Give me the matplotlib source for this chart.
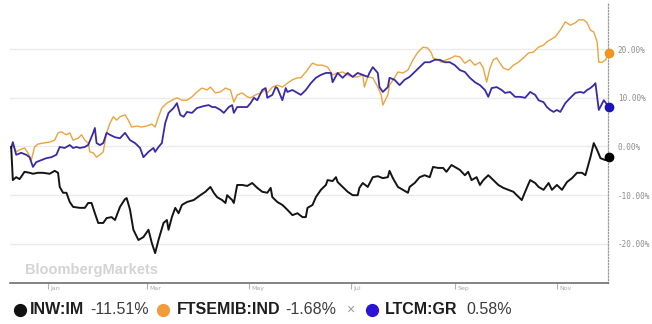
import matplotlib
matplotlib.use('Agg')
import matplotlib.pyplot as plt

# días desde el 1 de enero y variación en %
inw_days = [-22, -21, -19, -17, -14, -11, -9, -6, -3, 1, 4, 6, 7, 9, 11, 13, 15, 19, 22, 24,
            26, 28, 30, 33, 35, 38, 40, 43, 46, 47, 49, 51, 54, 57, 60, 62, 64, 66, 69, 71,
            72, 74, 76, 78, 80, 83, 87, 91, 94, 97, 99, 101, 104, 106, 107, 110, 111, 113, 116, 119,
            122, 125, 128, 131, 133, 134, 137, 140, 143, 146, 149, 152, 154, 155, 158, 160, 163, 166, 167, 170,
            172, 173, 176, 179, 182, 185, 186, 188, 191, 194, 197, 200, 203, 204, 206, 209, 212, 215, 216, 219,
            222, 225, 228, 230, 233, 236, 238, 241, 243, 246, 249, 251, 253, 256, 258, 260, 263, 266, 269, 272,
            275, 278, 280, 283, 285, 288, 291, 293, 296, 299, 301, 304, 307, 310, 313, 316, 319, 321, 324, 326,
            328, 330, 333, 335]
inw_vals = [-0.1, -6.9, -6.3, -6.7, -5.2, -5.4, -5.6, -5.4, -5.4, -5.6, -5.0, -5.4, -8.3, -9.5, -9.5, -11.4, -12.4, -12.6, -12.6, -11.6,
            -11.6, -13.7, -15.7, -15.7, -14.7, -14.5, -15.1, -12.4, -10.8, -10.6, -13.0, -17.1, -19.2, -18.6, -17.1, -19.8, -21.9, -19.2, -15.7, -15.1,
            -17.1, -14.5, -12.6, -13.7, -12.0, -11.4, -11.0, -10.0, -9.3, -8.3, -9.5, -10.4, -11.0, -11.6, -10.0, -11.0, -11.6, -7.9, -7.9, -8.1,
            -7.5, -8.5, -9.3, -9.5, -8.5, -10.4, -11.4, -12.0, -13.0, -14.1, -13.7, -14.5, -14.5, -12.6, -12.0, -10.4, -8.9, -7.9, -6.9, -7.1,
            -6.3, -7.3, -8.3, -9.3, -10.0, -10.0, -8.5, -7.5, -8.3, -6.3, -6.1, -6.5, -6.3, -5.0, -6.5, -8.3, -8.9, -9.5, -8.3, -7.5,
            -6.3, -5.9, -6.3, -4.2, -4.4, -4.4, -5.2, -3.8, -4.2, -4.8, -5.9, -5.2, -6.9, -6.3, -7.9, -6.9, -5.9, -6.9, -7.9, -8.5,
            -8.9, -9.3, -10.0, -11.0, -9.3, -6.9, -7.5, -8.3, -8.9, -7.5, -8.9, -7.9, -8.9, -7.3, -6.5, -5.4, -5.4, -5.9, -2.2, 0.7,
            -0.7, -2.4, -2.8, -2.2]

ftse_days = [-22, -21, -19, -17, -14, -12, -10, -8, -6, -3, 1, 4, 6, 8, 11, 13, 15, 18, 20, 22,
             24, 25, 27, 29, 31, 33, 35, 37, 39, 41, 43, 46, 48, 50, 53, 56, 59, 62, 64, 66,
             68, 71, 74, 77, 80, 83, 86, 89, 92, 95, 97, 100, 103, 106, 109, 111, 113, 116, 119, 121,
             124, 127, 130, 131, 134, 137, 140, 143, 146, 149, 151, 154, 157, 158, 161, 164, 167, 170, 173, 176,
             179, 182, 185, 188, 189, 191, 194, 197, 199, 200, 203, 204, 207, 209, 212, 215, 218, 221, 224, 227,
             229, 230, 233, 235, 238, 241, 243, 246, 249, 252, 255, 258, 260, 262, 264, 266, 268, 270, 272, 275,
             278, 281, 284, 287, 290, 293, 296, 298, 300, 303, 306, 309, 312, 315, 317, 320, 322, 324, 326, 328,
             329, 331, 333, 335]
ftse_vals = [-0.1, 0.3, -1.1, -0.7, -0.3, -1.3, -2.8, -0.1, 0.5, 0.7, 0.9, 1.3, 2.8, 3.0, 2.4, 2.8, 1.3, 1.7, 2.4, 1.3,
             0.7, -1.1, -1.3, -2.2, -1.7, -1.1, 2.8, 4.8, 6.1, 5.4, 6.1, 6.5, 5.4, 4.0, 4.2, 4.0, 4.2, 4.6, 4.0, 6.1,
             7.9, 8.9, 9.5, 10.0, 9.5, 9.5, 10.2, 11.2, 12.0, 11.6, 12.2, 11.0, 11.2, 12.0, 11.6, 9.1, 10.6, 11.0, 10.2, 10.0,
             10.6, 11.0, 11.6, 11.0, 12.2, 12.6, 12.2, 13.0, 13.7, 14.1, 14.1, 15.3, 16.7, 17.1, 16.7, 16.7, 16.3, 14.7, 15.1, 15.3,
             14.7, 14.3, 14.3, 14.7, 12.2, 14.3, 14.1, 12.2, 10.6, 8.5, 10.6, 12.6, 14.1, 15.3, 15.1, 15.7, 17.8, 19.4, 20.4, 20.2,
             19.2, 18.2, 17.8, 17.3, 17.8, 18.2, 18.6, 18.4, 17.1, 17.8, 16.7, 17.3, 16.1, 13.2, 16.1, 17.8, 18.2, 17.1, 16.1, 15.7,
             16.7, 17.3, 18.2, 19.2, 19.4, 20.4, 20.8, 21.5, 21.9, 22.5, 23.9, 25.6, 24.9, 25.4, 26.0, 26.0, 25.4, 23.9, 23.5, 21.5,
             17.3, 17.3, 17.8, 19.2]

ltcm_days = [-22, -21, -19, -16, -13, -11, -9, -7, -4, -1, 2, 5, 7, 10, 13, 15, 17, 19, 22, 24,
             27, 28, 29, 31, 33, 35, 37, 40, 43, 46, 49, 52, 55, 57, 60, 63, 64, 66, 68, 70,
             72, 75, 77, 79, 81, 83, 86, 89, 93, 96, 98, 100, 103, 105, 108, 110, 111, 113, 116, 119,
             121, 123, 125, 128, 130, 131, 134, 136, 137, 140, 142, 143, 146, 149, 151, 154, 157, 160, 163, 166,
             169, 170, 173, 176, 179, 182, 185, 188, 191, 192, 194, 197, 198, 200, 203, 204, 207, 210, 213, 216,
             219, 222, 225, 228, 231, 234, 237, 240, 243, 246, 249, 252, 255, 258, 261, 263, 265, 268, 271, 273,
             276, 279, 282, 285, 288, 291, 293, 296, 298, 300, 302, 304, 306, 309, 312, 315, 318, 320, 322, 324,
             326, 327, 329, 332, 335]
ltcm_vals = [-0.3, 0.9, -1.7, -1.3, -1.7, -2.2, -4.2, -3.2, -2.8, -2.4, -2.2, -1.7, -0.1, -0.3, 0.3, -0.3, -0.1, -0.3, -0.1, 0.3,
             2.8, 3.8, 0.7, 0.3, 0.7, 2.8, 2.4, 1.9, 1.7, 2.8, 1.3, 0.7, -0.3, -2.2, -1.1, -0.3, -1.1, -0.1, 0.7, 4.8,
             6.9, 7.9, 8.9, 6.5, 6.1, 7.1, 6.9, 7.9, 8.3, 8.5, 8.1, 8.1, 7.5, 6.9, 8.1, 8.5, 6.9, 8.1, 8.1, 8.1,
             8.9, 10.0, 9.5, 11.6, 12.0, 10.0, 10.6, 12.2, 12.0, 9.5, 12.0, 11.2, 11.6, 11.0, 10.6, 11.6, 13.0, 14.1, 14.7, 15.1,
             15.1, 13.2, 15.1, 14.1, 15.1, 14.3, 15.1, 14.7, 14.3, 15.1, 16.3, 15.1, 12.2, 11.2, 12.2, 14.1, 13.7, 12.6, 13.7, 14.3,
             15.3, 16.3, 17.3, 17.3, 17.8, 17.8, 17.3, 17.3, 16.7, 15.7, 15.3, 14.1, 13.2, 12.6, 11.6, 10.2, 12.0, 12.2, 11.6, 11.0,
             11.2, 10.2, 10.2, 10.0, 11.2, 10.6, 9.5, 9.1, 8.1, 7.5, 7.1, 7.5, 7.1, 8.9, 10.0, 11.0, 11.2, 11.0, 11.6, 12.0,
             12.6, 13.0, 7.5, 9.5, 8.1]

month_days = [0, 59, 120, 181, 243, 304]
month_labels = ['Jan', 'Mar', 'May', 'Jul', 'Sep', 'Nov']
y_ticks = [-20, -10, 0, 10, 20]

names = ['INW:IM', 'FTSEMIB:IND', 'LTCM:GR']
changes = ['-11.51%', '-1.68%', '0.58%']

c_inw = '#141414'
c_ftse = '#eda43e'
c_ltcm = '#3a2aa8'
legend_colors = ['#111111', '#f39a3a', '#2a12d6']

W, H = 652, 324
fig = plt.figure(figsize=(W / 100, H / 100), dpi=100)
fig.patch.set_facecolor('white')

ax = fig.add_axes([10 / W, (H - 283) / H, 598 / W, 281 / H])
ax.set_xlim(-22.7, 334.5)
ax.set_ylim(-28.03, 29.67)

for v in y_ticks:
    ax.axhline(v, color='#ebebeb', lw=1.0, zorder=0)

ax.plot(ftse_days, ftse_vals, color=c_ftse, lw=1.0, zorder=2)
ax.plot(ltcm_days, ltcm_vals, color=c_ltcm, lw=1.3, zorder=3)
ax.plot(inw_days, inw_vals, color=c_inw, lw=1.4, zorder=4)

# puntos finales
ax.plot(ftse_days[-1], ftse_vals[-1], 'o', color='#f0961e', ms=6, zorder=5, clip_on=False)
ax.plot(ltcm_days[-1], ltcm_vals[-1], 'o', color='#1c14b8', ms=6, zorder=5, clip_on=False)
ax.plot(inw_days[-1], inw_vals[-1], 'o', color='#000000', ms=6, zorder=5, clip_on=False)

for s in ['top', 'left']:
    ax.spines[s].set_visible(False)
ax.spines['bottom'].set_color('#6e6e6e')
ax.spines['bottom'].set_linewidth(1.2)
ax.spines['right'].set_color('#9a9a9a')
ax.spines['right'].set_linestyle((0, (1, 1.5)))
ax.spines['right'].set_linewidth(0.9)

ax.set_xticks(month_days)
ax.set_xticklabels([])
ax.tick_params(axis='x', direction='out', length=4, width=0.8, color='#b0b0b0')
for d, lab in zip(month_days, month_labels):
    ax.text(d + 1.5, -0.012, lab, transform=ax.get_xaxis_transform(),
            ha='left', va='top', fontsize=4.5, color='#a8a8a8')

ax.yaxis.tick_right()
ax.set_yticks(y_ticks)
ax.set_yticklabels([f'{v:.2f}%' for v in y_ticks], family='DejaVu Sans Mono',
                   fontsize=5.5, color='#8c8c8c')
ax.tick_params(axis='y', length=0, pad=7)

# marca de agua
ax.text(0.025, 0.045, 'BloombergMarkets', transform=ax.transAxes, fontsize=10.5,
        fontweight='bold', color='#d4d4d4', ha='left', va='center', family='Liberation Sans')

# leyenda inferior
lg = fig.add_axes([0, 0, 1, 40 / H])
lg.set_xlim(0, W)
lg.set_ylim(0, 40)
lg.axis('off')
dot_x = [20, 163, 372]
name_x = [30, 177, 385]
val_x = [90, 285, 466]
ly = 14
for i in range(3):
    lg.plot(dot_x[i], ly, 'o', color=legend_colors[i], ms=8.5)
    lg.text(name_x[i], ly, names[i], fontsize=11.5, fontweight='bold', color='#1e1e1e',
            ha='left', va='center', family='Liberation Sans')
    lg.text(val_x[i], ly, changes[i], fontsize=11.5, color='#3c3c3c',
            ha='left', va='center', family='Liberation Sans')
lg.text(350, ly, '×', fontsize=10, color='#9a9a9a', ha='center', va='center',
        family='Liberation Sans')

fig.savefig('out.png', dpi=100, facecolor='white')
